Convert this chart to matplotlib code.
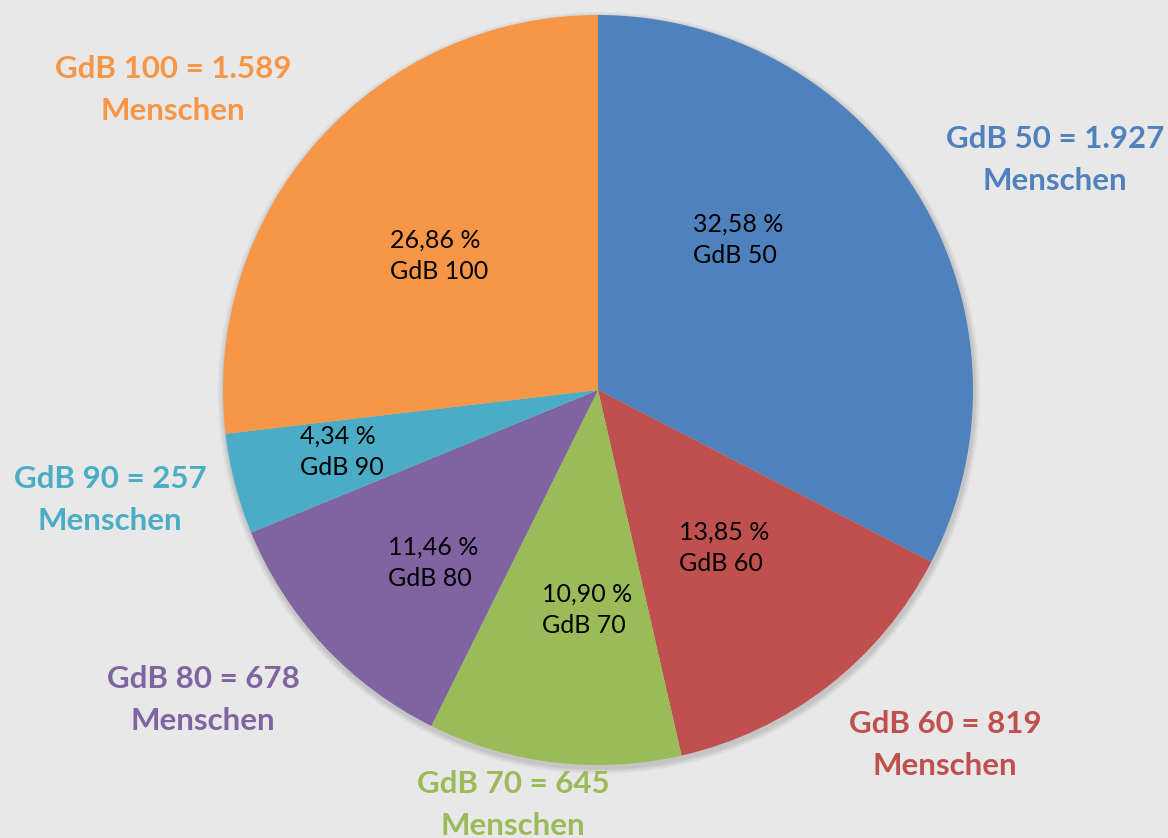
import matplotlib.pyplot as plt
from matplotlib.patches import Circle

labels = ['GdB 50', 'GdB 60', 'GdB 70', 'GdB 80', 'GdB 90', 'GdB 100']
people = [1927, 819, 645, 678, 257, 1589]
people_txt = ['1.927', '819', '645', '678', '257', '1.589']
colors = ['#4f81bd', '#c0504d', '#9bbb59', '#8064a2', '#4bacc6', '#f79646']

# label positions (pixel coords, y measured from top); inner ones are left edges
inner_pos = [(693, 240), (679, 548), (542, 610), (388, 563), (300, 452), (390, 256)]
outer_pos = [(1055, 160), (945, 745), (513, 805), (203, 700), (110, 500), (173, 90)]

W, H = 1168, 838
fig = plt.figure(figsize=(W / 100, H / 100), dpi=100)
fig.patch.set_facecolor('#e8e8e8')
ax = fig.add_axes([0, 0, 1, 1])
ax.set_xlim(0, W)
ax.set_ylim(0, H)
ax.set_aspect('equal')

cx, cy, r = 598, H - 390, 375
# soft shadow behind the pie
for k, a in [(6, 0.04), (4, 0.05), (2, 0.06)]:
    ax.add_patch(Circle((cx + 1, cy - 3), r + k, color='black', alpha=a, lw=0, zorder=0))

wedges, _ = ax.pie(people, colors=colors, startangle=90, counterclock=False,
                   center=(cx, cy), radius=r, frame=True,
                   wedgeprops=dict(linewidth=0))
ax.axis('off')

total = sum(people)
for i, lab in enumerate(labels):
    pct = people[i] / total * 100
    txt = ('%.2f %%' % pct).replace('.', ',') + '\n' + lab
    x, y = inner_pos[i]
    ax.text(x, H - y, txt, ha='left', va='center', fontsize=18,
            family='Lato', linespacing=1.45)
    x, y = outer_pos[i]
    ax.text(x, H - y, lab + ' = ' + people_txt[i] + '\nMenschen', ha='center',
            va='center', fontsize=22.5, fontweight='bold', family='Lato',
            color=colors[i], linespacing=1.65)

fig.savefig('out.png', dpi=100, facecolor=fig.get_facecolor())
